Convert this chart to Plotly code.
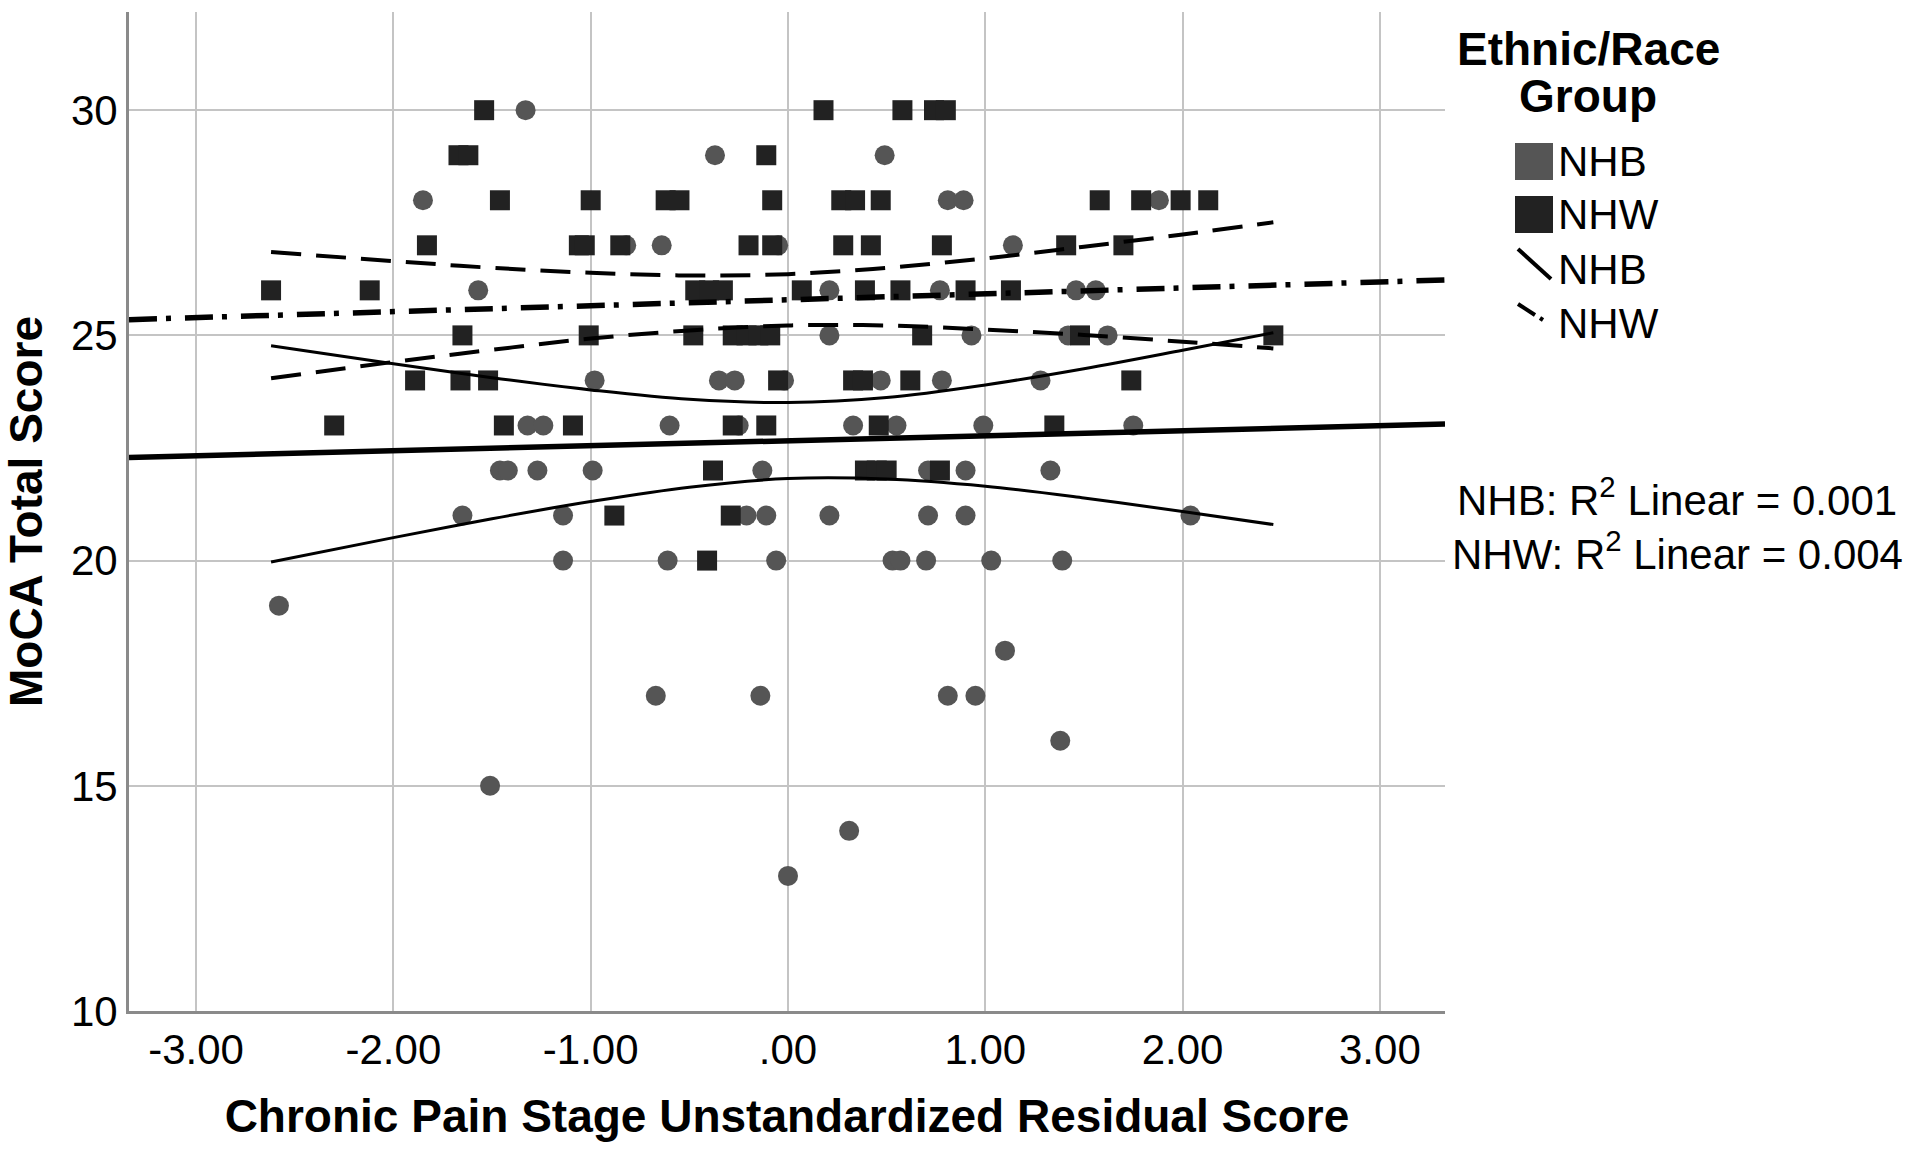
import plotly.graph_objects as go

# ---------------- data ----------------
nhb_x = [-1.33,
         -0.37, 0.49,
         -1.85, 0.81, 0.89, 1.88,
         -0.82, -0.64, -0.05, 1.14,
         -1.57, 0.21, 0.77, 1.46, 1.56,
         0.21, 0.93, 1.42, 1.62,
         -0.98, -0.35, -0.27, -0.02, 0.47, 0.78, 1.28,
         -1.32, -1.24, -0.60, -0.25, 0.33, 0.55, 0.99, 1.75,
         -1.46, -1.42, -1.27, -0.99, -0.13, 0.71, 0.90, 1.33,
         -1.65, -1.14, -0.21, -0.11, 0.21, 0.71, 0.90, 2.04,
         -1.14, -0.61, -0.06, 0.53, 0.57, 0.70, 1.03, 1.39,
         -2.58,
         1.10,
         -0.67, -0.14, 0.81, 0.95,
         1.38,
         -1.51,
         0.31,
         0.00]
nhb_y = ([30] + [29] * 2 + [28] * 4 + [27] * 4 + [26] * 5 + [25] * 4 + [24] * 7 +
         [23] * 8 + [22] * 8 + [21] * 8 + [20] * 8 + [19] + [18] + [17] * 4 + [16] +
         [15] + [14] + [13])

nhw_x = [-1.54, 0.18, 0.58, 0.74, 0.80,
         -1.67, -1.62, -0.11,
         -1.46, -1.00, -0.62, -0.55, -0.08, 0.27, 0.34, 0.47, 1.58, 1.79, 1.99, 2.13,
         -1.83, -1.06, -1.03, -0.85, -0.20, -0.08, 0.28, 0.42, 0.78, 1.41, 1.70,
         -2.62, -2.12, -0.47, -0.40, -0.33, 0.07, 0.39, 0.57, 0.90, 1.13,
         -1.65, -1.01, -0.48, -0.28, -0.21, -0.15, -0.09, 0.68, 1.48, 2.46,
         -1.89, -1.66, -1.52, -0.05, 0.33, 0.38, 0.62, 1.74,
         -2.30, -1.44, -1.09, -0.28, -0.11, 0.46, 1.35,
         -0.38, 0.39, 0.45, 0.50, 0.77,
         -0.88, -0.29,
         -0.41]
nhw_y = ([30] * 5 + [29] * 3 + [28] * 12 + [27] * 11 + [26] * 10 + [25] * 10 +
         [24] * 8 + [23] * 7 + [22] * 5 + [21] * 2 + [20])

# fit lines (full axis width)
fit_x = [-3.34, 3.33]
nhb_fit = [22.29, 23.03]
nhw_fit = [25.35, 26.23]

# 95% CI curves for the mean
ci_x = [-2.62, -2.0, -1.5, -1.0, -0.5, 0.0, 0.5, 1.0, 1.5, 2.0, 2.46]
nhb_upper = [24.77, 24.37, 24.06, 23.79, 23.58, 23.51, 23.62, 23.90, 24.26, 24.67, 25.06]
nhb_lower = [19.97, 20.51, 20.93, 21.31, 21.63, 21.82, 21.81, 21.65, 21.39, 21.09, 20.80]
nhw_upper = [26.85, 26.65, 26.50, 26.39, 26.33, 26.36, 26.50, 26.71, 26.97, 27.24, 27.51]
nhw_lower = [24.05, 24.41, 24.68, 24.93, 25.11, 25.22, 25.22, 25.13, 25.01, 24.86, 24.71]

x_ticks = [-3, -2, -1, 0, 1, 2, 3]
x_tick_text = ["-3.00", "-2.00", "-1.00", ".00", "1.00", "2.00", "3.00"]
y_ticks = [10, 15, 20, 25, 30]

groups = ["NHB", "NHW"]
r2_text = ["NHB: R<sup>2</sup> Linear = 0.001", "NHW: R<sup>2</sup> Linear = 0.004"]

# ---------------- styling ----------------
FONT = "Liberation Sans, Arial, sans-serif"
NHB_COL = "#555555"
NHW_COL = "#222222"

fig = go.Figure()

fig.add_trace(go.Scatter(x=nhb_x, y=nhb_y, mode="markers", name="NHB",
                         marker=dict(symbol="circle", size=20, color=NHB_COL),
                         showlegend=False))
fig.add_trace(go.Scatter(x=nhw_x, y=nhw_y, mode="markers", name="NHW",
                         marker=dict(symbol="square", size=20, color=NHW_COL),
                         showlegend=False))

# NHB: thick solid fit, thin solid CI
fig.add_trace(go.Scatter(x=fit_x, y=nhb_fit, mode="lines", showlegend=False,
                         line=dict(color="black", width=5.5)))
for arr in (nhb_upper, nhb_lower):
    fig.add_trace(go.Scatter(x=ci_x, y=arr, mode="lines", showlegend=False,
                             line=dict(color="black", width=3, shape="spline")))
# NHW: dash-dot fit, dashed CI
fig.add_trace(go.Scatter(x=fit_x, y=nhw_fit, mode="lines", showlegend=False,
                         line=dict(color="black", width=5.5, dash="28px,9px,5px,14px")))
for arr in (nhw_upper, nhw_lower):
    fig.add_trace(go.Scatter(x=ci_x, y=arr, mode="lines", showlegend=False,
                             line=dict(color="black", width=4, dash="30px,15px",
                                       shape="spline")))

# plot area in pixels: left 129, right 1445, top 12, bottom 1011
L, R, T, B = 129, 1445, 12, 1011


def px(xp):
    return (xp - L) / (R - L)


def py(yp):
    return (B - yp) / (B - T)


shapes = [
    dict(type="rect", xref="paper", yref="paper", x0=px(1515), x1=px(1553),
         y0=py(180), y1=py(143), fillcolor=NHB_COL, line=dict(width=0)),
    dict(type="rect", xref="paper", yref="paper", x0=px(1515), x1=px(1553),
         y0=py(233), y1=py(196), fillcolor=NHW_COL, line=dict(width=0)),
    dict(type="line", xref="paper", yref="paper", x0=px(1518), y0=py(249),
         x1=px(1551), y1=py(279), line=dict(color="black", width=4)),
    dict(type="line", xref="paper", yref="paper", x0=px(1518), y0=py(304),
         x1=px(1535), y1=py(315), line=dict(color="black", width=4)),
    dict(type="line", xref="paper", yref="paper", x0=px(1540), y0=py(318),
         x1=px(1543), y1=py(320), line=dict(color="black", width=4)),
]

annotations = [
    dict(text="Ethnic/Race", x=px(1588), y=py(49), xref="paper", yref="paper",
         showarrow=False, xanchor="center", yanchor="middle",
         font=dict(family=FONT, size=46, color="black", weight="bold")),
    dict(text="Group", x=px(1588), y=py(96), xref="paper", yref="paper",
         showarrow=False, xanchor="center", yanchor="middle",
         font=dict(family=FONT, size=46, color="black", weight="bold")),
]
for label, ycen in zip(groups + groups, [162, 215, 269, 323]):
    annotations.append(dict(text=label, x=px(1556), y=py(ycen), xref="paper", yref="paper",
                            showarrow=False, xanchor="left", yanchor="middle",
                            font=dict(family=FONT, size=42, color="black")))
for txt, ycen in zip(r2_text, [497, 551]):
    annotations.append(dict(text=txt, x=px(1677), y=py(ycen), xref="paper", yref="paper",
                            showarrow=False, xanchor="center", yanchor="middle",
                            font=dict(family=FONT, size=42, color="black")))

fig.update_layout(
    width=1920, height=1157, autosize=False,
    margin=dict(l=L, r=1920 - R, t=T, b=1157 - B, pad=0),
    paper_bgcolor="white", plot_bgcolor="white",
    font=dict(family=FONT, size=42, color="black"),
    shapes=shapes, annotations=annotations,
    showlegend=False,
)
fig.update_xaxes(
    range=[-3.34, 3.33], tickmode="array", tickvals=x_ticks, ticktext=x_tick_text,
    showgrid=True, gridcolor="#c4c4c4", gridwidth=2, zeroline=False,
    showline=True, linecolor="#8a8a8a", linewidth=3,
    ticks="", ticklabelstandoff=0,
    tickfont=dict(family=FONT, size=42, color="black"),
    title=dict(text="Chronic Pain Stage Unstandardized Residual Score", standoff=28,
               font=dict(family=FONT, size=46, color="black", weight="bold")),
)
fig.update_yaxes(
    range=[10, 32.18], tickmode="array", tickvals=y_ticks,
    showgrid=True, gridcolor="#c4c4c4", gridwidth=2, zeroline=False,
    showline=True, linecolor="#8a8a8a", linewidth=3,
    ticks="", ticklabelstandoff=0,
    tickfont=dict(family=FONT, size=42, color="black"),
    title=dict(text="MoCA Total Score", standoff=26,
               font=dict(family=FONT, size=46, color="black", weight="bold")),
)

fig.write_html("out.html", config={"displayModeBar": False},
               post_script="document.body.style.margin='0';")
